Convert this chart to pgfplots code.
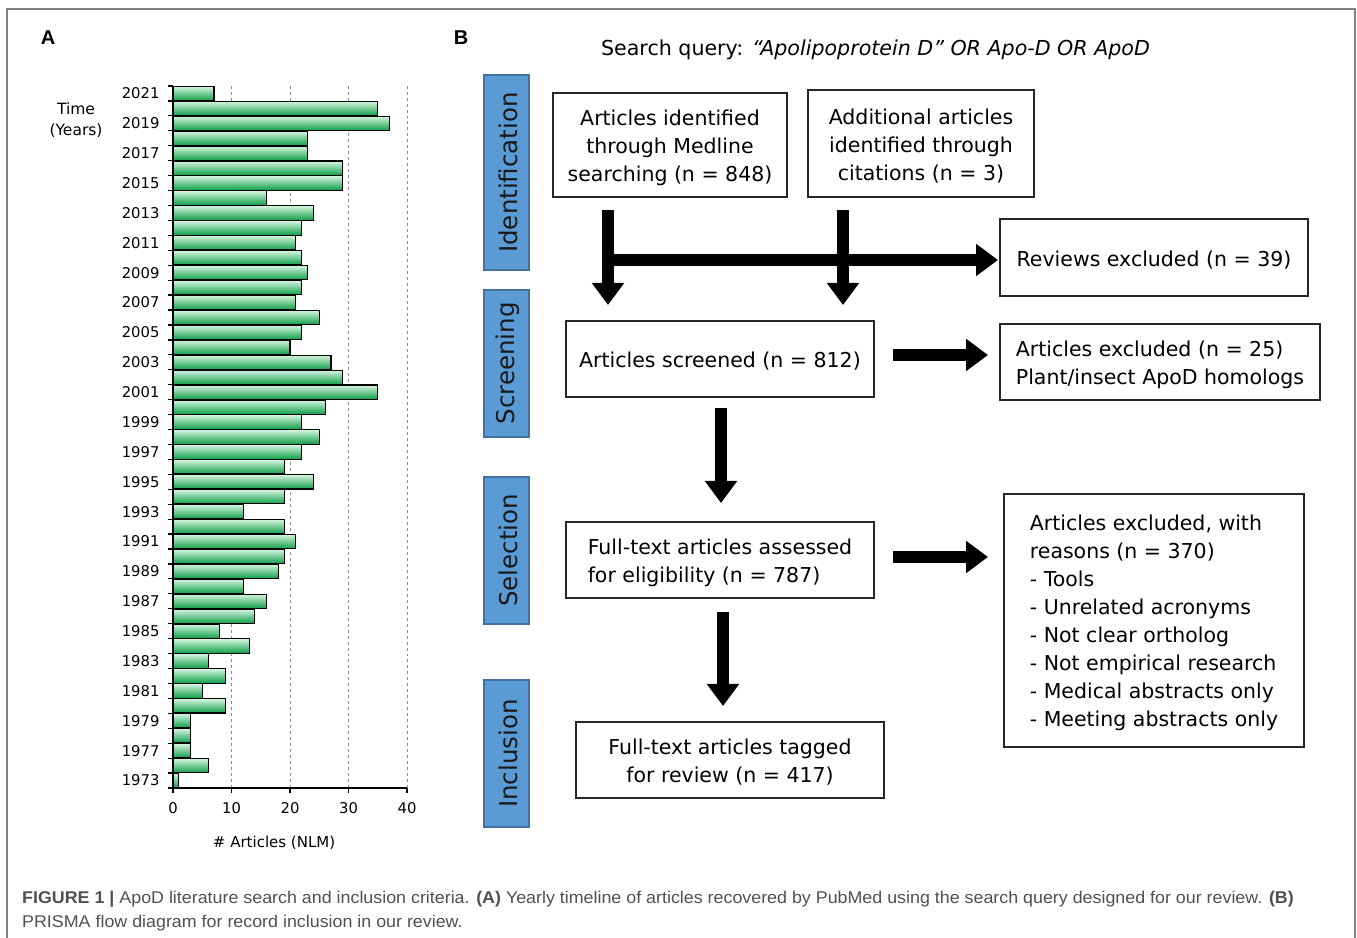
\documentclass[border=0pt]{standalone}
\usepackage{pgfplots}
\pgfplotsset{compat=1.18}
\usepackage{pgfplotstable}
\usepackage{fontspec}
\setmainfont{DejaVu Sans}
\newfontfamily\capfont[FakeStretch=1.05]{Liberation Sans}
\newfontfamily\labfont{Liberation Sans}
\usetikzlibrary{arrows.meta}

\definecolor{bargreen}{HTML}{0E9E48}
\definecolor{barlight}{HTML}{D6F6E0}
\definecolor{boxblue}{HTML}{5B9BD5}
\definecolor{boxblueedge}{HTML}{41719C}
\definecolor{framegray}{HTML}{808080}
\definecolor{capgray}{HTML}{505050}

% index 0 = 1973, 1 = 1975/76, 2 = 1977 ... 46 = 2021
\pgfplotstableread{
idx val
0 1
1 6
2 3
3 3
4 3
5 9
6 5
7 9
8 6
9 13
10 8
11 14
12 16
13 12
14 18
15 19
16 21
17 19
18 12
19 19
20 24
21 19
22 22
23 25
24 22
25 26
26 35
27 29
28 27
29 20
30 22
31 25
32 21
33 22
34 23
35 22
36 21
37 22
38 24
39 16
40 29
41 29
42 23
43 23
44 37
45 35
46 7
}\yeardata

\newcommand{\fbx}[6]{% x y w h align text
  \node[draw=black!85, line width=2bp, fill=white, inner sep=0pt,
    minimum width=#3bp, minimum height=#4bp] at (#1,#2) {};
  \node[font=\fontsize{20.5bp}{28bp}\selectfont, align=#5, inner sep=0pt]
    at (#1,#2-2.5) {#6};}

\begin{document}
\begin{tikzpicture}[x=1bp,y=1bp,
  stage/.style={draw=boxblueedge, fill=boxblue, line width=1.5bp, inner sep=0pt,
    minimum width=45bp},
  stagetext/.style={rotate=90, font=\fontsize{24.5bp}{28bp}\selectfont, text=black!90},
  arr/.style={line width=12bp, -{Triangle[width=31bp,length=22bp]}}]
\useasboundingbox (0,0) rectangle (1357,937);
\draw[framegray, line width=2bp] (7,-3) -- (7,928) -- (1355,928) -- (1355,-3);

% ---------------- Panel A ----------------
\node[font=\labfont\bfseries\fontsize{20bp}{24bp}\selectfont] at (48,899) {A};
\node[font=\fontsize{15.5bp}{21bp}\selectfont, align=center] at (76,816.5) {Time\\(Years)};

\begin{axis}[
  at={(173bp,149bp)}, anchor=south west,
  scale only axis, width=234bp, height=702bp,
  xmin=0, xmax=40, ymin=-0.5, ymax=46.5,
  axis x line*=bottom, axis y line*=left,
  axis line style={line width=1.3bp, black},
  xtick={0,10,...,40},
  xmajorgrids, grid style={dashed, black!45, line width=0.8bp},
  tick align=outside,
  major tick length=5bp,
  tick style={black, line width=1.2bp},
  ytick={-0.5,0.5,...,46.5}, yticklabels={},
  extra y ticks={0,2,...,46},
  extra y tick labels={1973,1977,1979,1981,1983,1985,1987,1989,1991,1993,1995,1997,1999,2001,2003,2005,2007,2009,2011,2013,2015,2017,2019,2021},
  extra y tick style={tick style={draw=none}, grid=none,
     yticklabel style={xshift=-5bp}},
  ticklabel style={font=\fontsize{14.8bp}{16bp}\selectfont},
  xticklabel style={yshift=-6bp},
  /pgf/number format/assume math mode=true,
  xlabel={\# Articles (NLM)},
  x label style={at={(axis description cs:0.432,-0.078)}, anchor=center,
     font=\fontsize{15bp}{18bp}\selectfont},
]
\pgfplotsinvokeforeach{0,...,46}{
  \addplot[xbar, bar width=0.96, bar shift=0pt, draw=black, line width=1.1bp,
    top color=barlight, bottom color=bargreen,
    y filter/.expression={y==#1 ? y : nan}] table[x=val, y=idx] {\yeardata};
}
\end{axis}

% ---------------- Panel B ----------------
\node[font=\labfont\bfseries\fontsize{20bp}{24bp}\selectfont] at (461,899) {B};
\node[font=\fontsize{20.6bp}{24bp}\selectfont] at (875.5,887)
  {Search query: \textit{“Apolipoprotein D” OR Apo-D OR ApoD}};

% stage boxes
\node[stage, minimum height=195bp] at (506.5,764.5) {};
\node[stagetext] at (508,764.5) {Identification};
\node[stage, minimum height=147bp] at (506.5,573.5) {};
\node[stagetext] at (508,573.5) {Screening};
\node[stage, minimum height=147bp] at (506.5,386.5) {};
\node[stagetext] at (508,386.5) {Selection};
\node[stage, minimum height=147bp] at (506.5,183.5) {};
\node[stagetext] at (508,183.5) {Inclusion};

% arrows
\draw[arr] (608,727) -- (608,632);
\draw[arr] (843,727) -- (843,632);
\draw[arr] (608,677) -- (998,677);
\draw[arr] (721,529) -- (721,434);
\draw[arr] (723,325) -- (723,231);
\draw[arr] (893,582) -- (988,582);
\draw[arr] (893,380) -- (988,380);

% flow boxes
\fbx{670}{792}{234}{104}{center}{Articles identified\\through Medline\\searching (n = 848)}
\fbx{921}{793.5}{226}{107}{center}{Additional articles\\identified through\\citations (n = 3)}
\fbx{1154}{679.5}{308}{77}{center}{Reviews excluded (n = 39)}
\fbx{720}{578}{308}{76}{center}{Articles screened (n = 812)}
\fbx{1160}{575}{320}{76}{left}{Articles excluded (n = 25)\\Plant/insect ApoD homologs}
\fbx{720}{377}{308}{76}{left}{Full-text articles assessed\\for eligibility (n = 787)}
\fbx{1154}{316.5}{300}{253}{left}{Articles excluded, with\\reasons (n = 370)\\- Tools\\- Unrelated acronyms\\- Not clear ortholog\\- Not empirical research\\- Medical abstracts only\\- Meeting abstracts only}
\fbx{730}{177}{308}{76}{center}{Full-text articles tagged\\for review (n = 417)}

% caption
\node[anchor=base west, inner sep=0pt, text=capgray, font=\capfont\fontsize{17bp}{20bp}\selectfont] at (22,34)
  {\textbf{FIGURE 1 |} ApoD literature search and inclusion criteria. \textbf{(A)} Yearly timeline of articles recovered by PubMed using the search query designed for our review. \textbf{(B)}};
\node[anchor=base west, inner sep=0pt, text=capgray, font=\capfont\fontsize{17bp}{20bp}\selectfont] at (22,10)
  {PRISMA flow diagram for record inclusion in our review.};
\end{tikzpicture}
\end{document}
